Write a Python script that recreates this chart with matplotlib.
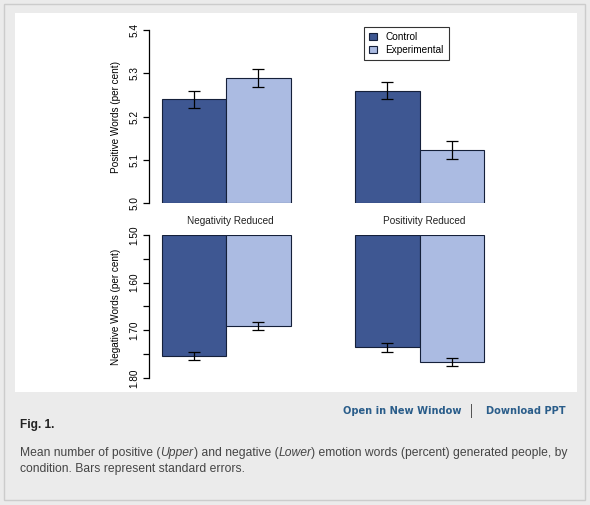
import matplotlib
matplotlib.use("Agg")
import matplotlib.pyplot as plt
from matplotlib.patches import Rectangle

plt.rcParams['font.family'] = ['Liberation Sans', 'DejaVu Sans']

# ---- data ----
groups = ["Negativity Reduced", "Positivity Reduced"]
series = ["Control", "Experimental"]
pos_control = [5.240, 5.260]
pos_experimental = [5.289, 5.123]
pos_control_se = [0.020, 0.020]
pos_experimental_se = [0.020, 0.021]
neg_control = [1.754, 1.736]
neg_experimental = [1.691, 1.766]
neg_control_se = [0.009, 0.009]
neg_experimental_se = [0.009, 0.009]
pos_ticks = [5.0, 5.1, 5.2, 5.3, 5.4]
neg_ticks = [1.50, 1.55, 1.60, 1.65, 1.70, 1.75, 1.80]
neg_ticklabels = ["1.50", "", "1.60", "", "1.70", "", "1.80"]

c_ctrl = "#3e5792"
c_exp = "#abbbe2"
c_edge = "#15203a"
FS = 7.2

W, H = 590, 505
fig = plt.figure(figsize=(W / 100, H / 100), dpi=100, facecolor="#ebebeb")

def px_rect(x0, y0, x1, y1):
    return [x0 / W, 1 - y1 / H, (x1 - x0) / W, (y1 - y0) / H]

# frame border and white panel
fig.patches.append(Rectangle((3.5 / W, 1 - 499.5 / H), 581 / W, 496 / H, transform=fig.transFigure,
                             facecolor="none", edgecolor="#cccccc", lw=1.0, zorder=-20))
fig.patches.append(Rectangle((15 / W, 1 - 392 / H), 562 / W, 379 / H, transform=fig.transFigure,
                             facecolor="white", edgecolor="none", zorder=-10))

# x positions (R barplot beside=TRUE, space=c(0,1))
x_ctrl = [1.5, 4.5]
x_exp = [2.5, 5.5]
centers = [2.0, 5.0]
unit = 64.5
x0_px = 161.7 - unit * 1.0  # px of x=0
ax_left_px, ax_right_px = 149, 520
xlim = ((ax_left_px - x0_px) / unit, (ax_right_px - x0_px) / unit)

def style(ax):
    for s in ["top", "right", "bottom"]:
        ax.spines[s].set_visible(False)
    ax.spines["left"].set_linewidth(0.9)
    ax.tick_params(axis="y", direction="out", length=4.5, width=0.9, labelsize=FS,
                   pad=2.5, labelrotation=90)
    for lab in ax.get_yticklabels():
        lab.set_va("center")
    ax.set_xticks([])
    ax.set_xlim(*xlim)
    ax.patch.set_visible(False)

# upper axes
ax1 = fig.add_axes(px_rect(ax_left_px, 30, ax_right_px, 203.3))
b1 = ax1.bar(x_ctrl, [v - 5.0 for v in pos_control], bottom=5.0, width=1.0,
             color=c_ctrl, edgecolor=c_edge, linewidth=0.8, label=series[0])
b2 = ax1.bar(x_exp, [v - 5.0 for v in pos_experimental], bottom=5.0, width=1.0,
             color=c_exp, edgecolor=c_edge, linewidth=0.8, label=series[1])
ax1.errorbar(x_ctrl, pos_control, yerr=pos_control_se, fmt="none", ecolor="black",
             elinewidth=0.9, capsize=4.6, capthick=0.9)
ax1.errorbar(x_exp, pos_experimental, yerr=pos_experimental_se, fmt="none", ecolor="black",
             elinewidth=0.9, capsize=4.6, capthick=0.9)
ax1.set_ylim(5.0, 5.4)
ax1.set_yticks(pos_ticks)
ax1.set_yticklabels([f"{t:.1f}" for t in pos_ticks])
style(ax1)
ax1.set_ylabel("Positive Words (per cent)", fontsize=FS, labelpad=6)

# lower axes
ax2 = fig.add_axes(px_rect(ax_left_px, 235, ax_right_px, 378))
ax2.bar(x_ctrl, [v - 1.5 for v in neg_control], bottom=1.5, width=1.0,
        color=c_ctrl, edgecolor=c_edge, linewidth=0.8)
ax2.bar(x_exp, [v - 1.5 for v in neg_experimental], bottom=1.5, width=1.0,
        color=c_exp, edgecolor=c_edge, linewidth=0.8)
ax2.errorbar(x_ctrl, neg_control, yerr=neg_control_se, fmt="none", ecolor="black",
             elinewidth=0.9, capsize=4.6, capthick=0.9)
ax2.errorbar(x_exp, neg_experimental, yerr=neg_experimental_se, fmt="none", ecolor="black",
             elinewidth=0.9, capsize=4.6, capthick=0.9)
ax2.set_ylim(1.80, 1.50)
ax2.set_yticks(neg_ticks)
ax2.set_yticklabels(neg_ticklabels)
style(ax2)
ax2.set_ylabel("Negative Words (per cent)", fontsize=FS, labelpad=6)

# group labels between panels
for c, g in zip(centers, groups):
    xf = (x0_px + c * unit + 4) / W
    fig.text(xf, 1 - 221 / H, g, ha="center", va="center", fontsize=FS, color="#222222")

# legend
leg = fig.legend(handles=[b1, b2], labels=series, loc="upper left",
                 bbox_to_anchor=(364 / W, 1 - 27 / H), fontsize=FS,
                 frameon=True, fancybox=False, handlelength=0.75, handleheight=0.75,
                 handletextpad=0.9, borderpad=0.5, labelspacing=0.3, borderaxespad=0)
leg.get_frame().set_edgecolor("black")
leg.get_frame().set_linewidth(0.8)

# caption area
link_c = "#2a5d8a"
fig.text(461.7 / W, 1 - 411 / H, "Open in New Window", ha="right", va="center",
         fontsize=7.1, fontweight="bold", color=link_c, family="DejaVu Sans")
fig.patches.append(Rectangle((471 / W, 1 - 418 / H), 1.2 / W, 14 / H, transform=fig.transFigure,
                             facecolor="#555555", edgecolor="none"))
fig.text(565.7 / W, 1 - 411 / H, "Download PPT", ha="right", va="center",
         fontsize=7.1, fontweight="bold", color=link_c, family="DejaVu Sans")
fig.text(20 / W, 1 - 425 / H, "Fig. 1.", ha="left", va="center",
         fontsize=8.6, fontweight="bold", color="#222222")

renderer = fig.canvas.get_renderer()

def seq_text(x_px, y_px, parts, **kw):
    x = x_px
    for txt, style_ in parts:
        t = fig.text(x / W, 1 - y_px / H, txt, ha="left", va="center", style=style_, **kw)
        bb = t.get_window_extent(renderer=renderer)
        x += bb.width

cap_kw = dict(fontsize=8.75, color="#454545")
seq_text(20, 453, [("Mean number of positive (", "normal"), ("Upper", "italic"),
                   (") and negative (", "normal"), ("Lower", "italic"),
                   (") emotion words (percent) generated people, by", "normal")], **cap_kw)
seq_text(20, 469.3, [("condition. Bars represent standard errors.", "normal")], **cap_kw)

fig.savefig("out.png", dpi=100, facecolor=fig.get_facecolor())
